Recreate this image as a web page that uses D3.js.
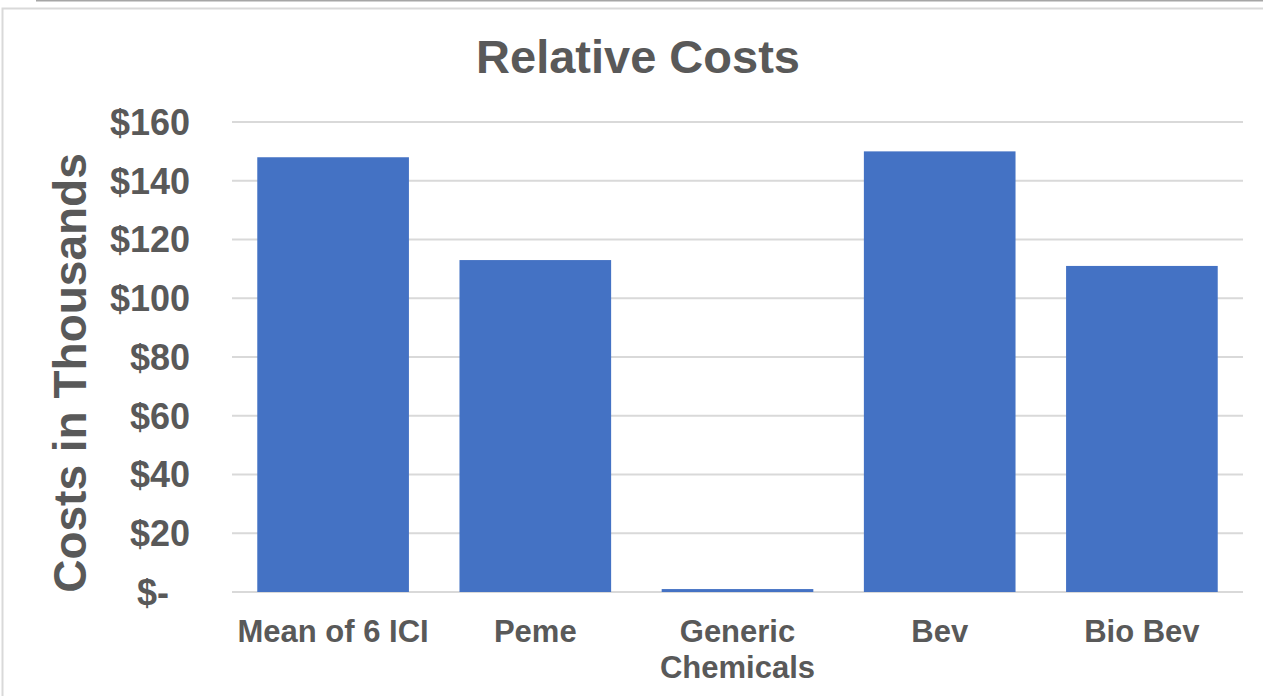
<!DOCTYPE html>
<html>
<head>
<meta charset="utf-8">
<script src="https://cdn.jsdelivr.net/npm/d3@7"></script>
<style>
  body { margin: 0; background: #fff; }
  text { font-family: "Liberation Sans", Arial, sans-serif; font-weight: bold; fill: #595959; }
</style>
</head>
<body>
<div id="chart"></div>
<script>
// data
var categories = ["Mean of 6 ICI", "Peme", "Generic Chemicals", "Bev", "Bio Bev"];
var labelLines = [["Mean of 6 ICI"], ["Peme"], ["Generic", "Chemicals"], ["Bev"], ["Bio Bev"]];
var costs = [148, 113, 1, 150, 111];
var yTicks = [0, 20, 40, 60, 80, 100, 120, 140, 160];

var w = 1263, h = 696;
var margin = { left: 232, right: 20, top: 122, bottom: 104 };

var svg = d3.select("#chart").append("svg").attr("width", w).attr("height", h);

// outer frame lines
svg.append("line").attr("x1", 36).attr("x2", w).attr("y1", 0.5).attr("y2", 0.5)
    .attr("stroke", "#a6a6a6").attr("stroke-width", 2);
svg.append("path").attr("d", "M2.5," + h + "V8.5H" + w)
    .attr("fill", "none").attr("stroke", "#d9d9d9").attr("stroke-width", 2);

var x = d3.scaleBand()
    .domain(categories)
    .range([margin.left, w - margin.right])
    .paddingInner(0.25)
    .paddingOuter(0.125);

var y = d3.scaleLinear()
    .domain([0, 160])
    .range([h - margin.bottom, margin.top]);

// gridlines
svg.append("g").selectAll("line")
    .data(yTicks)
    .enter().append("line")
    .attr("x1", margin.left).attr("x2", w - margin.right)
    .attr("y1", function (d) { return y(d); })
    .attr("y2", function (d) { return y(d); })
    .attr("stroke", "#d9d9d9").attr("stroke-width", 2);

// bars
svg.append("g").selectAll("rect")
    .data(costs)
    .enter().append("rect")
    .attr("x", function (d, i) { return x(categories[i]); })
    .attr("width", x.bandwidth())
    .attr("y", function (d) { return y(d); })
    .attr("height", function (d) { return y(0) - y(d); })
    .attr("fill", "#4472c4");

// y tick labels (accounting style, zero shows as "$-")
svg.append("g").selectAll("text")
    .data(yTicks)
    .enter().append("text")
    .attr("x", function (d) { return d === 0 ? 169 : 190; })
    .attr("y", function (d) { return y(d); })
    .attr("dy", "0.36em")
    .attr("text-anchor", "end")
    .attr("font-size", 36)
    .text(function (d) { return d === 0 ? "$-" : "$" + d; });

// x labels
var xl = svg.append("g").selectAll("text")
    .data(labelLines)
    .enter().append("text")
    .attr("x", function (d, i) { return x(categories[i]) + x.bandwidth() / 2; })
    .attr("y", 642)
    .attr("text-anchor", "middle")
    .attr("font-size", 31);
xl.selectAll("tspan")
    .data(function (d) { return d; })
    .enter().append("tspan")
    .attr("x", function () { return this.parentNode.getAttribute("x"); })
    .attr("dy", function (d, i) { return i === 0 ? 0 : 36; })
    .text(function (d) { return d; });

// title
svg.append("text")
    .attr("x", 638).attr("y", 73)
    .attr("text-anchor", "middle")
    .attr("font-size", 47)
    .text("Relative Costs");

// y axis title
svg.append("text")
    .attr("transform", "translate(86,373) rotate(-90)")
    .attr("text-anchor", "middle")
    .attr("font-size", 46)
    .text("Costs in Thousands");
</script>
</body>
</html>
